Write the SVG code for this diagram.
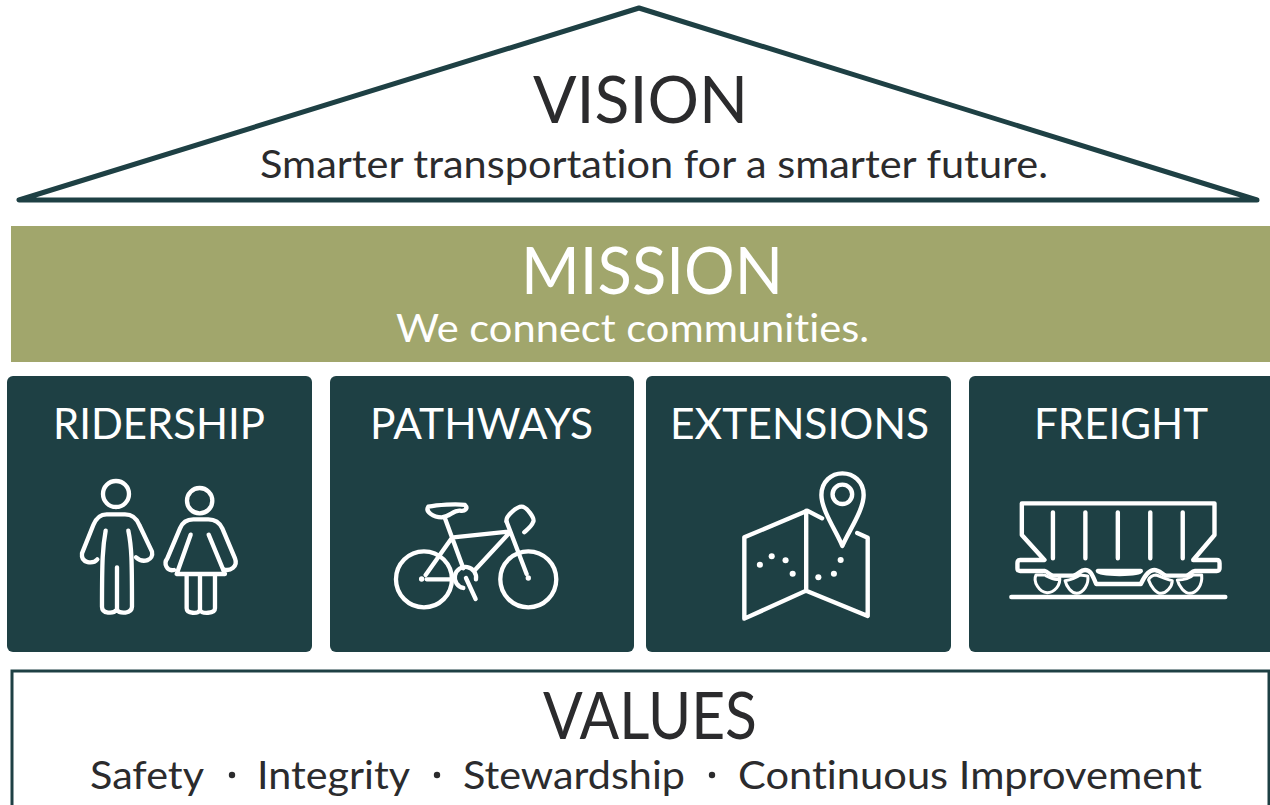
<svg xmlns="http://www.w3.org/2000/svg" width="1270" height="805" viewBox="0 0 1270 805">
<style>
text{font-family:"Lato","Noto Sans",sans-serif;font-variant-ligatures:none}
.dk{fill:#2b2b2d}.wh{fill:#fff}
.h1{font-size:66px}.h2{font-size:39px}.h3{font-size:43px}
.panel{fill:#1e4044}
.ic{fill:none;stroke:#fff;stroke-width:13;stroke-linecap:round;stroke-linejoin:round}
.fill{fill:#fff;stroke:none}
.thin{stroke-width:9}
</style>
<rect width="1270" height="805" fill="#fff"/>
<g id="vision">
<path d="M639 8L19 200H1257Z" fill="#fff" stroke="#1e4044" stroke-width="5" stroke-linejoin="round"/>
<text class="dk h1" x="533" y="123" textLength="215" lengthAdjust="spacingAndGlyphs">VISION</text>
<text class="dk h2" x="260" y="178" textLength="788" lengthAdjust="spacingAndGlyphs">Smarter transportation for a smarter future.</text>
</g>
<g id="mission">
<rect x="11" y="226" width="1259" height="136" fill="#a1a66c"/>
<text class="wh h1" x="521" y="294" textLength="262" lengthAdjust="spacingAndGlyphs">MISSION</text>
<text class="wh h2" x="396" y="342" textLength="473" lengthAdjust="spacingAndGlyphs">We connect communities.</text>
</g>
<g id="ridership">
<rect class="panel" x="7" y="376" width="305" height="276" rx="6"/>
<text class="wh h3" x="53" y="439" textLength="212" lengthAdjust="spacingAndGlyphs">RIDERSHIP</text>
<g transform="translate(60 460) scale(.3333)" class="ic">
<circle cx="168" cy="102" r="39"/>
<path d="M112 298C100 312 62 312 66 280L100 195C110 170 125 163 140 163H195C215 163 230 175 238 195L276 275C282 300 250 312 228 292"/>
<path d="M137 212C128 260 126 300 126 440C126 462 160 462 170 450C180 462 215 462 216 440C216 300 215 260 205 212M171 322V450"/>
<circle cx="419" cy="122" r="38"/>
<path d="M342 330C320 335 310 310 322 295L360 205C368 185 385 178 400 178H445C465 178 480 190 487 205L525 295C535 320 510 335 490 328"/>
<path d="M392 224L350 342H495L446 224M380 345V445C380 462 415 462 420 450C425 462 465 462 465 445V345M420 345V450"/>
</g>
</g>
<g id="pathways">
<rect class="panel" x="330" y="376" width="304" height="276" rx="6"/>
<text class="wh h3" x="370" y="439" textLength="223" lengthAdjust="spacingAndGlyphs">PATHWAYS</text>
<g transform="translate(60 460) scale(.3333)" class="ic">
<circle cx="1092" cy="358" r="84"/>
<circle cx="1405" cy="358" r="84"/>
<path d="M1100 358H1170M1155 175L1210 325M1180 232L1345 215M1345 222L1245 330M1175 235L1097 345M1340 185L1400 342"/>
<path d="M1340 185C1335 170 1370 140 1385 140C1400 140 1425 175 1420 185C1415 200 1400 210 1393 217"/>
<path d="M1105 140C1130 135 1190 130 1215 135C1225 145 1215 155 1200 152C1180 150 1170 170 1145 172C1120 172 1095 155 1105 140Z"/>
<path d="M1248 358A32 32 0 1 0 1210 384M1218 354L1247 417"/>
<circle class="fill" cx="1085" cy="357" r="8"/>
<circle class="fill" cx="1405" cy="354" r="8"/>
</g>
</g>
<g id="extensions">
<rect class="panel" x="646" y="376" width="305" height="276" rx="6"/>
<text class="wh h3" x="670" y="439" textLength="259" lengthAdjust="spacingAndGlyphs">EXTENSIONS</text>
<g transform="translate(720 460) scale(.338 .3333)" class="ic">
<path d="M362 258C345 215 300 150 300 105C300 65 330 40 362 40C395 40 425 65 425 105C425 150 380 215 362 258Z"/>
<circle cx="362" cy="103" r="29"/>
<path d="M302 175L258 152L72 232V476L255 392L437 468V233L406 219M255 152V392"/>
<g class="fill">
<circle cx="118" cy="314" r="9"/><circle cx="153" cy="289" r="9"/><circle cx="194" cy="301" r="9"/><circle cx="215" cy="341" r="9"/><circle cx="291" cy="352" r="9"/><circle cx="337" cy="341" r="9"/><circle cx="357" cy="300" r="9"/>
</g>
</g>
</g>
<g id="freight">
<rect class="panel" x="969" y="376" width="310" height="276" rx="6"/>
<text class="wh h3" x="1034" y="439" textLength="174" lengthAdjust="spacingAndGlyphs">FREIGHT</text>
<g transform="translate(720 460) scale(.338 .3333)" class="ic">
<path d="M960 300H888Q880 300 880 310V325Q880 333 888 333H960C970 335 975 345 985 347H1045C1060 345 1065 330 1080 330C1095 330 1100 340 1113 372H1245C1255 350 1270 330 1285 330C1300 330 1310 345 1320 347H1380C1390 345 1395 333 1405 333H1470Q1478 333 1478 325V310Q1478 300 1470 300H1400L1463 225V130H893V225Z"/>
<path d="M985 157V295M1081 157V295M1177 157V295M1273 157V295M1369 157V295M1118 333H1245C1240 345 1125 345 1118 333Z"/>
<path class="thin" d="M955 345H935C925 365 945 398 968 398C990 398 1008 375 1005 352M1000 358C985 360 970 350 960 345"/>
<path class="thin" d="M1021 362C1025 380 1040 400 1055 400C1075 400 1092 372 1088 348L1065 345C1055 352 1035 360 1021 362Z"/>
<path class="thin" d="M1268 360C1275 380 1290 400 1305 400C1320 400 1338 380 1338 362C1320 358 1305 350 1290 345C1280 345 1270 352 1268 360Z"/>
<path class="thin" d="M1353 360C1358 380 1375 400 1390 400C1410 400 1428 375 1425 345H1400C1390 355 1370 360 1353 360Z"/>
<path d="M862 411H1495"/>
</g>
</g>
<g id="values">
<path d="M12 805V671H1269V805" fill="#fff" stroke="#1e4044" stroke-width="3"/>
<text class="dk h1" x="543" y="739" textLength="214" lengthAdjust="spacingAndGlyphs">VALUES</text>
<g class="dk h2">
<text x="90" y="789" textLength="114" lengthAdjust="spacingAndGlyphs">Safety</text>
<circle cx="232" cy="775" r="3.2"/>
<text x="257" y="789" textLength="153" lengthAdjust="spacingAndGlyphs">Integrity</text>
<circle cx="437" cy="775" r="3.2"/>
<text x="463" y="789" textLength="222" lengthAdjust="spacingAndGlyphs">Stewardship</text>
<circle cx="712" cy="775" r="3.2"/>
<text x="738" y="789" textLength="464" lengthAdjust="spacingAndGlyphs">Continuous Improvement</text>
</g>
</g>
</svg>
